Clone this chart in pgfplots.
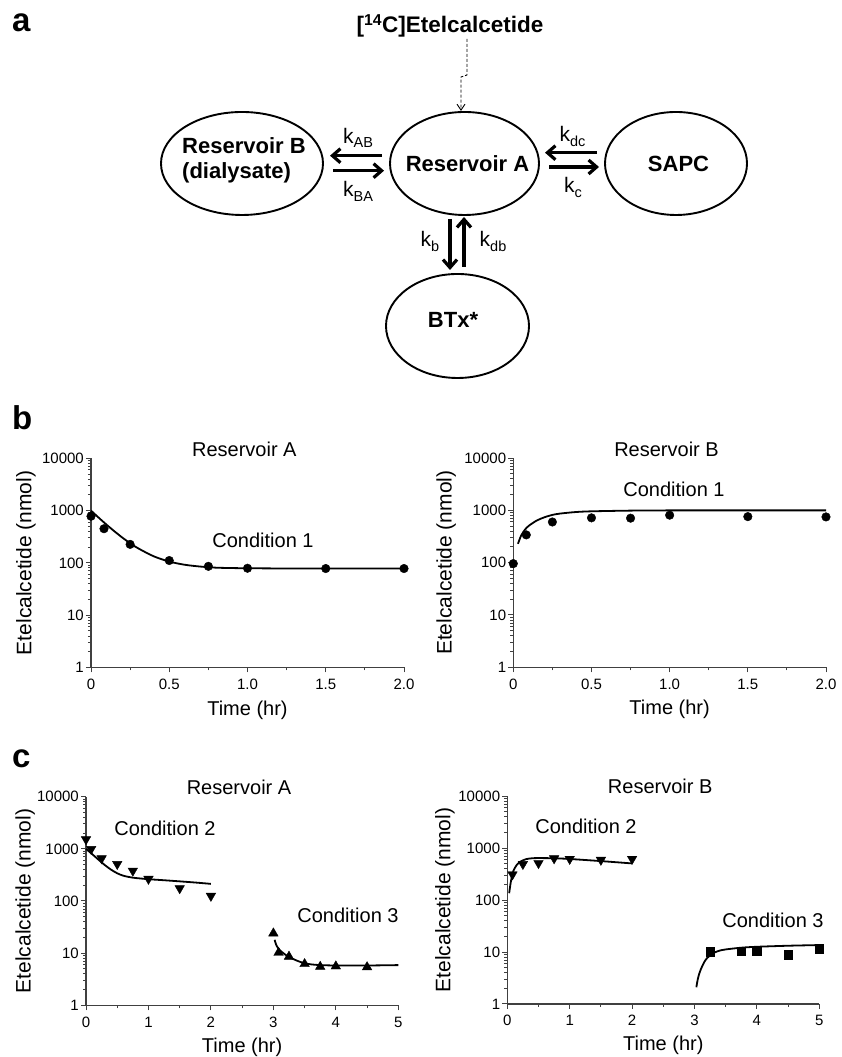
\documentclass[border=0pt]{standalone}
\usepackage{fontspec}
\setmainfont{Liberation Sans}
\usepackage{graphicx}
\usepackage{pgfplots}
\pgfplotsset{compat=1.18}
\usetikzlibrary{arrows.meta}
\newcommand{\fs}[1]{\fontsize{#1}{#1}\selectfont}
\newcommand{\klab}[1]{k\raisebox{-4.5pt}{\fs{14.5}#1}}

\pgfplotsset{
  every axis/.append style={
    scale only axis, clip=false,
    axis x line*=bottom, axis y line*=left,
    axis line style={line width=1.1pt, black!75, -},
    tick style={line width=1pt, black!75},
    tick align=outside,
    major tick length=5pt, minor tick length=3pt,
    ticklabel style={font=\fs{15}},
    yticklabel style={inner sep=2pt},
    xticklabel style={yshift=-3pt},
    title style={font=\fs{20}, anchor=center, yshift=-6pt},
    xlabel style={font=\fs{20}, anchor=center},
    ylabel style={font=\fs{21}, anchor=center},
  },
}
\tikzset{
  myfitline/.style={black, line width=1.8pt, smooth},
}

\begin{document}
\begin{tikzpicture}[x=1pt,y=1pt]
\useasboundingbox (0,0) rectangle (842,1057);

% ---------------- panel a ----------------
\node[anchor=base west, font=\fs{33}\bfseries, inner sep=0] at (12,1057-32) {a};
\node[anchor=base, font=\fs{22.5}\bfseries, inner sep=0] at (450,1057-33) {[\textsuperscript{14}C]Etelcalcetide};
\draw[line width=0.9pt, black, dash pattern=on 3pt off 2pt, -{Straight Barb[length=6pt,width=8pt]}]
  (467,1057-39) -- (467,1057-75) -- (461,1057-77) -- (461,1057-111);

\draw[line width=1.9pt] (242,1057-163.5) ellipse [x radius=81, y radius=51.5];
\draw[line width=1.9pt] (464.5,1057-163.5) ellipse [x radius=74.5, y radius=51.5];
\draw[line width=1.9pt] (676,1057-163.5) ellipse [x radius=71, y radius=51.5];
\draw[line width=1.9pt] (457.5,1057-326) ellipse [x radius=71.5, y radius=52];

\node[anchor=base west, font=\fs{22}\bfseries, inner sep=0] at (182,1057-154) {Reservoir B};
\node[anchor=base west, font=\fs{22}\bfseries, inner sep=0] at (182,1057-179) {(dialysate)};
\node[anchor=base, font=\fs{22}\bfseries, inner sep=0] at (467.5,1057-172) {Reservoir A};
\node[anchor=base, font=\fs{22}\bfseries, inner sep=0] at (678.5,1057-172) {SAPC};
\node[anchor=base, font=\fs{22}\bfseries, inner sep=0] at (453,1057-328) {BTx*};

\tikzset{thick arrow/.style={line width=3.2pt, -{Straight Barb[length=8pt,width=14pt]}}}
\draw[thick arrow] (382,1057-155.7) -- (330,1057-155.7);
\draw[thick arrow] (333,1057-170.7) -- (384,1057-170.7);
\draw[thick arrow] (597,1057-152.7) -- (545,1057-152.7);
\draw[thick arrow] (549,1057-167) -- (599,1057-167);
\draw[thick arrow] (450,1057-219) -- (450,1057-270);
\draw[thick arrow] (464,1057-267) -- (464,1057-217);

\node[anchor=base, font=\fs{21}, inner sep=0] at (358,1057-143.5) {\klab{AB}};
\node[anchor=base, font=\fs{21}, inner sep=0] at (358,1057-197) {\klab{BA}};
\node[anchor=base, font=\fs{21}, inner sep=0] at (572.5,1057-142) {\klab{dc}};
\node[anchor=base, font=\fs{21}, inner sep=0] at (573,1057-193) {\klab{c}};
\node[anchor=base, font=\fs{21}, inner sep=0] at (430,1057-247) {\klab{b}};
\node[anchor=base, font=\fs{21}, inner sep=0] at (493,1057-247) {\klab{db}};

% ---------------- panel b ----------------
\node[anchor=base west, font=\fs{33}\bfseries, inner sep=0] at (12,1057-430) {b};

\begin{axis}[ymode=log, ymin=1, ymax=10000,
  ytick={1,10,100,1000,10000}, yticklabels={1,10,100,1000,10000},
  minor ytick={2,3,4,5,6,7,8,9,20,30,40,50,60,70,80,90,200,300,400,500,600,700,800,900,2000,3000,4000,5000,6000,7000,8000,9000},
  xmin=0, xmax=2, xtick={0,0.5,1,1.5,2}, xticklabels={0,0.5,1.0,1.5,2.0},
  minor xtick={0.25,0.75,1.25,1.75},
  at={(91pt,389.5pt)}, width=313pt, height=209.2pt,
  title={Reservoir A}, title style={at={(axis description cs:0.49,1.044)}},
  xlabel={Time (hr)}, ylabel={Etelcalcetide (nmol)},
  xlabel style={at={(axis description cs:0.5,-0.203)}},
  ylabel style={at={(axis description cs:-0.2077,0.5)}}]
\addplot[myfitline] coordinates {(0,1000) (0.05,728) (0.1,536) (0.15,401) (0.2,305) (0.25,238) (0.3,191) (0.4,134) (0.5,106) (0.6,92) (0.7,85) (0.8,81) (0.9,79.7) (1.0,79) (1.25,78.2) (1.5,78) (2.0,78)};
\addplot[only marks, black, mark=*, mark size=4.3pt] coordinates {(0,780) (0.083,450) (0.25,226) (0.5,111) (0.75,86) (1,79) (1.5,78) (2,78)};
\end{axis}

\begin{axis}[ymode=log, ymin=1, ymax=10000,
  ytick={1,10,100,1000,10000}, yticklabels={1,10,100,1000,10000},
  minor ytick={2,3,4,5,6,7,8,9,20,30,40,50,60,70,80,90,200,300,400,500,600,700,800,900,2000,3000,4000,5000,6000,7000,8000,9000},
  xmin=0, xmax=2, xtick={0,0.5,1,1.5,2}, xticklabels={0,0.5,1.0,1.5,2.0},
  minor xtick={0.25,0.75,1.25,1.75},
  at={(513.3pt,389.7pt)}, width=312.7pt, height=209.2pt,
  title={Reservoir B}, title style={at={(axis description cs:0.49,1.044)}},
  xlabel={Time (hr)}, ylabel={Etelcalcetide (nmol)},
  xlabel style={at={(axis description cs:0.5,-0.203)}},
  ylabel style={at={(axis description cs:-0.215,0.5)}}]
\addplot[myfitline] coordinates {(0.03,230) (0.05,330) (0.075,430) (0.1,510) (0.15,640) (0.2,740) (0.25,820) (0.3,870) (0.4,930) (0.5,960) (0.75,990) (1.0,1000) (1.5,1000) (2.0,1000)};
\addplot[only marks, black, mark=*, mark size=4.3pt] coordinates {(0,96) (0.083,340) (0.25,600) (0.5,720) (0.75,710) (1,810) (1.5,760) (2,750)};
\end{axis}

\node[font=\fs{20}] at (263,1057-540) {Condition 1};
\node[font=\fs{20}] at (674,1057-489) {Condition 1};

% ---------------- panel c ----------------
\node[anchor=base west, font=\fs{33}\bfseries, inner sep=0] at (12,1057-768) {c};

\begin{axis}[ymode=log, ymin=1, ymax=10000,
  ytick={1,10,100,1000,10000}, yticklabels={1,10,100,1000,10000},
  minor ytick={2,3,4,5,6,7,8,9,20,30,40,50,60,70,80,90,200,300,400,500,600,700,800,900,2000,3000,4000,5000,6000,7000,8000,9000},
  xmin=0, xmax=5, xtick={0,1,2,3,4,5}, xticklabels={0,1,2,3,4,5},
  minor xtick={0.5,1.5,2.5,3.5,4.5},
  at={(86pt,51.7pt)}, width=312.3pt, height=208.6pt,
  title={Reservoir A}, title style={at={(axis description cs:0.49,1.046)}},
  xlabel={Time (hr)}, ylabel={Etelcalcetide (nmol)},
  xlabel style={at={(axis description cs:0.5,-0.2)}},
  ylabel style={at={(axis description cs:-0.195,0.5)}}]
\addplot[myfitline] coordinates {(0,1000) (0.1,790) (0.2,620) (0.3,490) (0.4,400) (0.5,340) (0.6,305) (0.75,280) (1.0,262) (1.25,250) (1.5,238) (1.75,226) (2.0,213)};
\addplot[only marks, black, mark=triangle*, mark size=5.5pt, mark options={rotate=180}] coordinates {(0,1520) (0.083,990) (0.25,655) (0.5,510) (0.75,380) (1,265) (1.5,175) (2,125)};
\addplot[myfitline] coordinates {(3.02,18) (3.05,14) (3.1,11.5) (3.2,9.2) (3.3,7.9) (3.4,7.0) (3.5,6.4) (3.6,6.1) (3.75,5.9) (4.0,5.8) (4.5,5.8) (5.0,5.9)};
\addplot[only marks, black, mark=triangle*, mark size=5.5pt] coordinates {(3,24) (3.083,10.2) (3.25,8.6) (3.5,6.2) (3.75,5.5) (4,5.6) (4.5,5.4)};
\end{axis}

\begin{axis}[ymode=log, ymin=1, ymax=10000,
  ytick={1,10,100,1000,10000}, yticklabels={1,10,100,1000,10000},
  minor ytick={2,3,4,5,6,7,8,9,20,30,40,50,60,70,80,90,200,300,400,500,600,700,800,900,2000,3000,4000,5000,6000,7000,8000,9000},
  xmin=0, xmax=5, xtick={0,1,2,3,4,5}, xticklabels={0,1,2,3,4,5},
  minor xtick={0.5,1.5,2.5,3.5,4.5},
  at={(507.3pt,53pt)}, width=312pt, height=208pt,
  title={Reservoir B}, title style={at={(axis description cs:0.49,1.046)}},
  xlabel={Time (hr)}, ylabel={Etelcalcetide (nmol)},
  xlabel style={at={(axis description cs:0.5,-0.2)}},
  ylabel style={at={(axis description cs:-0.2,0.5)}}]
\addplot[myfitline] coordinates {(0.03,135) (0.05,200) (0.075,290) (0.1,370) (0.15,470) (0.2,540) (0.3,610) (0.4,635) (0.5,640) (0.75,635) (1.0,615) (1.5,560) (2.0,505)};
\addplot[only marks, black, mark=triangle*, mark size=5.5pt, mark options={rotate=180}] coordinates {(0.083,310) (0.25,490) (0.5,510) (0.75,630) (1,615) (1.5,590) (2,615)};
\addplot[myfitline] coordinates {(3.03,2.1) (3.05,2.9) (3.075,3.8) (3.1,4.6) (3.15,6.2) (3.2,7.6) (3.3,9.5) (3.4,10.6) (3.5,11.2) (3.75,12.1) (4.0,12.6) (4.5,13.2) (5.0,13.6)};
\addplot[only marks, black, mark=square*, mark size=4.3pt] coordinates {(3.25,10.1) (3.75,10.4) (4,10.4) (4.5,8.9) (5,11.6)};
\end{axis}

\node[font=\fs{20}] at (165,1057-828) {Condition 2};
\node[font=\fs{20}] at (348,1057-915) {Condition 3};
\node[font=\fs{20}] at (586,1057-826) {Condition 2};
\node[font=\fs{20}] at (773,1057-920) {Condition 3};
\end{tikzpicture}
\end{document}
